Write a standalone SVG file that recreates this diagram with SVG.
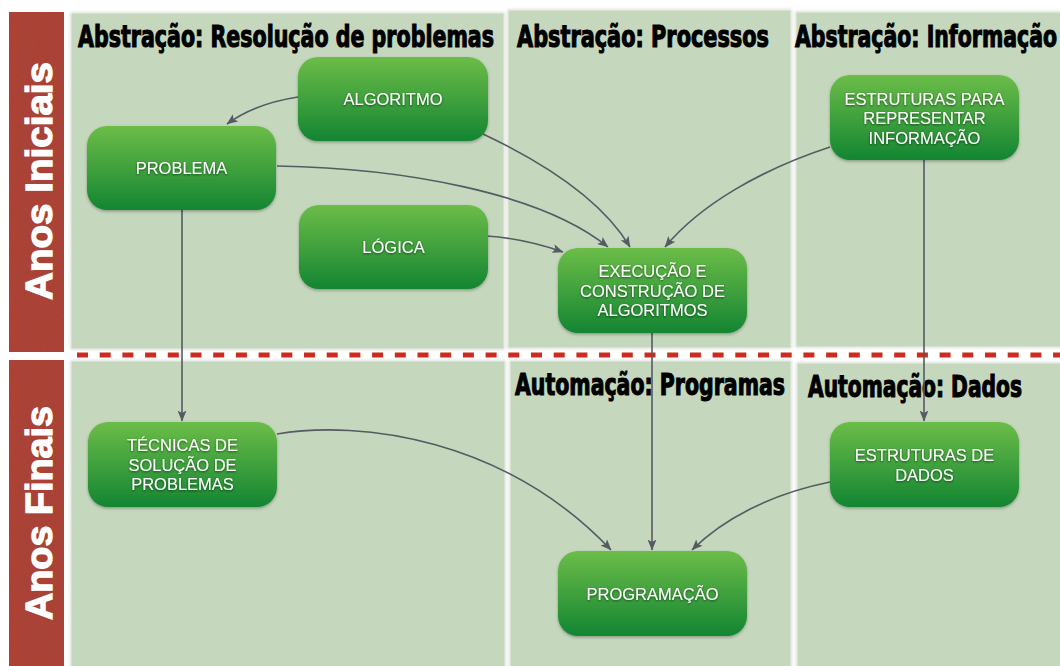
<svg xmlns="http://www.w3.org/2000/svg" width="1060" height="666" viewBox="0 0 1060 666">
  <defs>
    <linearGradient id="nodeGrad" x1="0" y1="0" x2="0" y2="1">
      <stop offset="0" stop-color="#6cbd48"/>
      <stop offset="1" stop-color="#138532"/>
    </linearGradient>
    <filter id="nodeShadow" x="-10%" y="-10%" width="120%" height="130%">
      <feDropShadow dx="0" dy="1.5" stdDeviation="1.5" flood-color="#000" flood-opacity="0.3"/>
    </filter>
    <filter id="txtShadow" x="-10%" y="-30%" width="120%" height="160%">
      <feDropShadow dx="0" dy="1" stdDeviation="0.8" flood-color="#000" flood-opacity="0.55"/>
    </filter>
    <filter id="panelShadow" x="-5%" y="-5%" width="110%" height="110%">
      <feDropShadow dx="0" dy="0" stdDeviation="1.5" flood-color="#000" flood-opacity="0.18"/>
    </filter>
    <filter id="redTexture" x="0" y="0" width="100%" height="100%">
      <feTurbulence type="fractalNoise" baseFrequency="0.9" numOctaves="2" seed="3" result="noise"/>
      <feColorMatrix in="noise" type="matrix" values="0 0 0 0 0  0 0 0 0 0  0 0 0 0 0  0 0 0 0.18 0" result="dark"/>
      <feComposite in="dark" in2="SourceGraphic" operator="in" result="tex"/>
      <feMerge><feMergeNode in="SourceGraphic"/><feMergeNode in="tex"/></feMerge>
    </filter>
    <marker id="arrow" viewBox="0 0 11 9" refX="10.5" refY="4.5" markerWidth="11" markerHeight="9" markerUnits="userSpaceOnUse" orient="auto">
      <path d="M0,0 L11,4.5 L0,9 L2.5,4.5 z" fill="#555a63"/>
    </marker>
    <style>
      .panel { fill: #c5d8bd; stroke: #e4ece0; stroke-width: 1; filter: url(#panelShadow); }
      .side { fill: #b1463a; filter: url(#redTexture); }
      .sideTxt { font-family: "Liberation Sans", Arial, sans-serif; font-weight: bold; font-size: 37px; fill: #ffffff; stroke: #ffffff; stroke-width: 1.3; text-anchor: middle; }
      .title { font-family: "Liberation Sans Narrow", "DejaVu Sans Condensed", "Liberation Sans", sans-serif; font-stretch: condensed; font-weight: bold; font-size: 30px; fill: #000; stroke: #000; stroke-width: 1.1; }
      .node rect { fill: url(#nodeGrad); filter: url(#nodeShadow); }
      .node text { font-family: "Liberation Sans", Arial, sans-serif; font-size: 16.5px; fill: #ffffff; text-anchor: middle; filter: url(#txtShadow); }
      .conn path { fill: none; stroke: #555a63; stroke-width: 1.6; marker-end: url(#arrow); }
      .divider { stroke: #cc2b1f; stroke-width: 5; stroke-dasharray: 11 11.7; }
    </style>
  </defs>

  <rect x="0" y="0" width="1060" height="666" fill="#ffffff"/>

  <!-- side bars -->
  <g id="side-iniciais">
    <rect class="side" x="9" y="12" width="55" height="340"/>
    <text class="sideTxt" transform="translate(52,181) rotate(-90)" x="0" y="0" textLength="238" lengthAdjust="spacingAndGlyphs">Anos Iniciais</text>
  </g>
  <g id="side-finais">
    <rect class="side" x="9" y="360" width="55" height="306"/>
    <text class="sideTxt" transform="translate(52,513) rotate(-90)" x="0" y="0" textLength="214" lengthAdjust="spacingAndGlyphs">Anos Finais</text>
  </g>

  <!-- panels -->
  <g id="panel-resolucao">
    <rect class="panel" x="71" y="13" width="433" height="336"/>
    <text class="title" x="78" y="47" textLength="416" lengthAdjust="spacingAndGlyphs">Abstração: Resolução de problemas</text>
  </g>
  <g id="panel-processos">
    <rect class="panel" x="508" y="10" width="283" height="338"/>
    <text class="title" x="517" y="47" textLength="252" lengthAdjust="spacingAndGlyphs">Abstração: Processos</text>
  </g>
  <g id="panel-informacao">
    <rect class="panel" x="796" y="12" width="266" height="335"/>
    <text class="title" x="795" y="47" textLength="262" lengthAdjust="spacingAndGlyphs">Abstração: Informação</text>
  </g>
  <g id="panel-finais-left">
    <rect class="panel" x="71" y="361" width="434" height="307"/>
  </g>
  <g id="panel-programas">
    <rect class="panel" x="510" y="361" width="281" height="307"/>
    <text class="title" x="515" y="395" textLength="270" lengthAdjust="spacingAndGlyphs">Automação: Programas</text>
  </g>
  <g id="panel-dados">
    <rect class="panel" x="797" y="363" width="265" height="305"/>
    <text class="title" x="808" y="397" textLength="214" lengthAdjust="spacingAndGlyphs">Automação: Dados</text>
  </g>

  <!-- divider -->
  <line class="divider" x1="77" y1="355" x2="1060" y2="355"/>

  <!-- connectors -->
  <g id="connectors" class="conn">
    <path d="M298,97 C272,101 246,110 227,124"/>
    <path d="M483,134 C555,168 605,205 630,247"/>
    <path d="M277,166 C400,168 540,192 608,247"/>
    <path d="M487,236 C515,238 540,244 563,252"/>
    <path d="M830,147 C760,170 700,205 665,247"/>
    <path d="M182,210 L182,421"/>
    <path d="M652,333 L652,550"/>
    <path d="M924,160 L924,421"/>
    <path d="M277,434 C360,420 505,438 611,550"/>
    <path d="M830,482 C770,494 722,520 692,550"/>
  </g>

  <!-- nodes -->
  <g id="node-algoritmo" class="node">
    <rect x="298" y="57" width="190" height="84" rx="20"/>
    <text x="393" y="105">ALGORITMO</text>
  </g>
  <g id="node-problema" class="node">
    <rect x="87" y="126" width="189" height="84" rx="20"/>
    <text x="181.5" y="174">PROBLEMA</text>
  </g>
  <g id="node-logica" class="node">
    <rect x="299" y="205" width="189" height="84" rx="20"/>
    <text x="393.5" y="253">LÓGICA</text>
  </g>
  <g id="node-execucao" class="node">
    <rect x="558" y="248" width="189" height="85" rx="20"/>
    <text x="652.5" y="277">EXECUÇÃO E</text>
    <text x="652.5" y="296.5">CONSTRUÇÃO DE</text>
    <text x="652.5" y="316">ALGORITMOS</text>
  </g>
  <g id="node-estruturas-info" class="node">
    <rect x="830" y="75" width="189" height="85" rx="20"/>
    <text x="924.5" y="104.5">ESTRUTURAS PARA</text>
    <text x="924.5" y="124">REPRESENTAR</text>
    <text x="924.5" y="143.5">INFORMAÇÃO</text>
  </g>
  <g id="node-tecnicas" class="node">
    <rect x="88" y="422" width="189" height="85" rx="20"/>
    <text x="182.5" y="451">TÉCNICAS DE</text>
    <text x="182.5" y="470.5">SOLUÇÃO DE</text>
    <text x="182.5" y="490">PROBLEMAS</text>
  </g>
  <g id="node-estruturas-dados" class="node">
    <rect x="830" y="422" width="189" height="85" rx="20"/>
    <text x="924.5" y="461">ESTRUTURAS DE</text>
    <text x="924.5" y="480.5">DADOS</text>
  </g>
  <g id="node-programacao" class="node">
    <rect x="558" y="551" width="189" height="85" rx="20"/>
    <text x="652.5" y="599.5">PROGRAMAÇÃO</text>
  </g>
</svg>
